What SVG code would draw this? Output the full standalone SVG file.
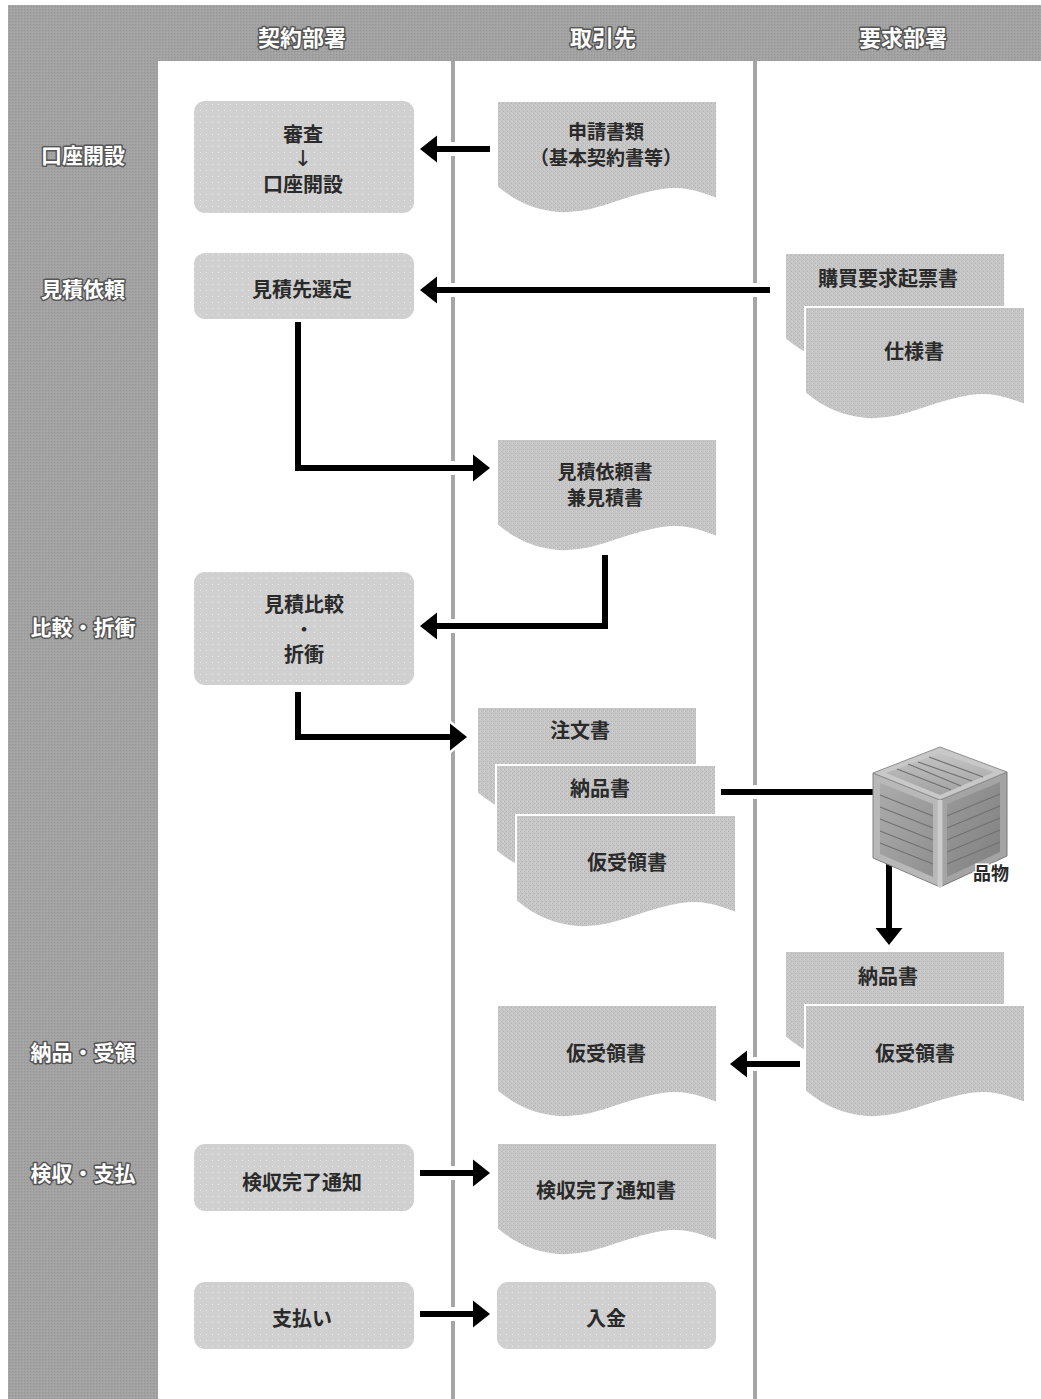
<svg xmlns="http://www.w3.org/2000/svg" width="1041" height="1399" viewBox="0 0 1041 1399">
<style>
text{font-family:"Noto Sans CJK JP","Noto Sans CJK SC",sans-serif;text-anchor:middle;dominant-baseline:central}
.hd{font-size:22px;font-weight:bold;fill:#fff;stroke:#555;stroke-width:3px;paint-order:stroke;stroke-linejoin:round}
.ph{font-size:21px}
.t{font-size:20px;font-weight:bold;fill:#2a2a2a}
.t2{font-size:19px}
.arr{font-size:22px;font-weight:normal;font-family:"DejaVu Sans",sans-serif;fill:#2a2a2a}
.dot{font-size:18px}
.box{fill:url(#boxpat)}
.doc{fill:url(#docpat);stroke:#fff;stroke-width:2}
.lane{stroke:#a6a6a6;stroke-width:4;fill:none}
.halo{stroke:#fff;stroke-width:14;fill:none}
.con{stroke:#000;stroke-width:6;fill:none}
.plank{stroke:#707070;stroke-width:1.2;fill:none}
</style>
<defs>
<pattern id="bgpat" width="3" height="3" patternUnits="userSpaceOnUse">
<rect width="3" height="3" fill="#a2a2a2"/>
<rect width="1" height="1" fill="#959595"/>
<rect x="2" y="2" width="1" height="1" fill="#adadad"/>
</pattern>
<pattern id="boxpat" width="6" height="6" patternUnits="userSpaceOnUse">
<rect width="6" height="6" fill="#d0d0d0"/>
<rect x="2" y="2" width="1" height="1" fill="#ebebeb"/>
</pattern>
<pattern id="docpat" width="4" height="4" patternUnits="userSpaceOnUse">
<rect width="4" height="4" fill="#c6c6c6"/>
<rect width="1" height="1" fill="#b0b0b0"/>
<rect x="2" y="2" width="1" height="1" fill="#b4b4b4"/>
<rect x="3" y="0" width="1" height="1" fill="#d6d6d6"/>
</pattern>
<path id="doc" d="M0,0 H220 V98 C200,90 185,86 165,89 C125,95 100,114 62,112 C35,110 15,99 0,86 Z"/>
<marker id="ah" markerUnits="userSpaceOnUse" markerWidth="20" markerHeight="28" refX="0" refY="13.5" orient="auto" overflow="visible">
<path d="M0,0 L17,13.5 L0,27 Z" fill="#000"/>
</marker>
<marker id="hh" markerUnits="userSpaceOnUse" markerWidth="26" markerHeight="36" refX="0" refY="13.5" orient="auto" overflow="visible">
<path d="M-1,-4 L22,13.5 L-1,31 Z" fill="#fff"/>
</marker>
<linearGradient id="gTop" x1="0" y1="0" x2="0" y2="1"><stop offset="0" stop-color="#c4c4c4"/><stop offset="1" stop-color="#a2a2a2"/></linearGradient>
<linearGradient id="gLeft" x1="0" y1="0" x2="1" y2="1"><stop offset="0" stop-color="#ababab"/><stop offset="1" stop-color="#909090"/></linearGradient>
<linearGradient id="gRight" x1="0" y1="0" x2="1" y2="1"><stop offset="0" stop-color="#9a9a9a"/><stop offset="1" stop-color="#808080"/></linearGradient>
</defs>

<!-- background frame -->
<rect x="0" y="0" width="1041" height="1399" fill="#fff"/>
<rect x="8" y="5" width="1033" height="1394" fill="url(#bgpat)"/>
<rect x="158" y="61" width="883" height="1338" fill="#fff"/>
<line class="lane" x1="453" y1="61" x2="453" y2="1399"/>
<line class="lane" x1="755" y1="61" x2="755" y2="1399"/>

<g id="headers">
<text class="hd" x="302" y="36">契約部署</text>
<text class="hd" x="603" y="36">取引先</text>
<text class="hd" x="903" y="36">要求部署</text>
</g>
<g id="phases">
<text class="hd ph" x="83" y="154">口座開設</text>
<text class="hd ph" x="83" y="288">見積依頼</text>
<text class="hd ph" x="83" y="626">比較・折衝</text>
<text class="hd ph" x="83" y="1051">納品・受領</text>
<text class="hd ph" x="83" y="1172">検収・支払</text>
</g>

<g id="connectors">
<path class="halo" d="M490,149 H437" marker-end="url(#hh)"/>
<path class="halo" d="M770,290 H437" marker-end="url(#hh)"/>
<path class="halo" d="M298,322 V468 H473" marker-end="url(#hh)"/>
<path class="halo" d="M605,555 V626 H437" marker-end="url(#hh)"/>
<path class="halo" d="M298,692 V737 H450" marker-end="url(#hh)"/>
<path class="halo" d="M721,792 H873"/>
<path class="halo" d="M889,855 V928" marker-end="url(#hh)"/>
<path class="halo" d="M800,1064 H747" marker-end="url(#hh)"/>
<path class="halo" d="M420,1173 H473" marker-end="url(#hh)"/>
<path class="halo" d="M420,1314 H473" marker-end="url(#hh)"/>
<path class="con" d="M490,149 H437" marker-end="url(#ah)"/>
<path class="con" d="M770,290 H437" marker-end="url(#ah)"/>
<path class="con" d="M298,322 V468 H473" marker-end="url(#ah)"/>
<path class="con" d="M605,555 V626 H437" marker-end="url(#ah)"/>
<path class="con" d="M298,692 V737 H450" marker-end="url(#ah)"/>
<path class="con" d="M721,792 H873"/>
<path class="con" d="M889,855 V928" marker-end="url(#ah)"/>
<path class="con" d="M800,1064 H747" marker-end="url(#ah)"/>
<path class="con" d="M420,1173 H473" marker-end="url(#ah)"/>
<path class="con" d="M420,1314 H473" marker-end="url(#ah)"/>
</g>

<g id="n-shinsa">
<rect class="box" x="194" y="101" width="220" height="112" rx="11"/>
<text class="t" x="303" y="133">審査<tspan class="arr" x="303" y="158">↓</tspan><tspan x="303" y="183">口座開設</tspan></text>
</g>
<g id="n-shinseisho">
<use href="#doc" class="doc" x="497" y="101"/>
<text class="t t2" x="606" y="130">申請書類<tspan x="606" y="156">（基本契約書等）</tspan></text>
</g>
<g id="n-mitsumorisaki">
<rect class="box" x="194" y="253" width="220" height="66" rx="11"/>
<text class="t" x="302" y="288">見積先選定</text>
</g>
<g id="n-kobai">
<use href="#doc" class="doc" x="785" y="253"/>
<text class="t" x="888" y="277">購買要求起票書</text>
</g>
<g id="n-shiyosho">
<use href="#doc" class="doc" x="805" y="307"/>
<text class="t" x="914" y="350">仕様書</text>
</g>
<g id="n-iraisho">
<use href="#doc" class="doc" x="497" y="439"/>
<text class="t t2" x="605" y="470">見積依頼書<tspan x="605" y="496">兼見積書</tspan></text>
</g>
<g id="n-hikaku">
<rect class="box" x="194" y="572" width="220" height="113" rx="11"/>
<text class="t" x="304" y="603">見積比較<tspan class="dot" x="304" y="628">・</tspan><tspan x="304" y="653">折衝</tspan></text>
</g>
<g id="n-chumonsho">
<use href="#doc" class="doc" x="477" y="707"/>
<text class="t" x="580" y="729">注文書</text>
</g>
<g id="n-nohinsho1">
<use href="#doc" class="doc" x="496" y="765"/>
<text class="t" x="600" y="787">納品書</text>
</g>
<g id="n-karijuryo1">
<use href="#doc" class="doc" x="516" y="815"/>
<text class="t" x="627" y="861">仮受領書</text>
</g>
<g id="n-shinamono">
<polygon points="873,773 940,800 940,887 873,858" fill="#b8b8b8" stroke="#808080" stroke-width="1"/>
<polygon points="880,783 933,804 933,877 880,854" fill="url(#gLeft)"/>
<line class="plank" x1="880" y1="795" x2="933" y2="816"/>
<line class="plank" x1="880" y1="807" x2="933" y2="828"/>
<line class="plank" x1="880" y1="819" x2="933" y2="840"/>
<line class="plank" x1="880" y1="831" x2="933" y2="852"/>
<line class="plank" x1="880" y1="843" x2="933" y2="864"/>
<polygon points="940,800 1007,772 1007,856 940,887" fill="#a4a4a4" stroke="#767676" stroke-width="1"/>
<polygon points="947,804 1000,782 1000,852 947,877" fill="url(#gRight)"/>
<line class="plank" x1="947" y1="816" x2="1000" y2="794"/>
<line class="plank" x1="947" y1="828" x2="1000" y2="806"/>
<line class="plank" x1="947" y1="840" x2="1000" y2="818"/>
<line class="plank" x1="947" y1="852" x2="1000" y2="830"/>
<line class="plank" x1="947" y1="864" x2="1000" y2="842"/>
<polygon points="940,747 1007,772 940,800 873,773" fill="#c8c8c8" stroke="#8e8e8e" stroke-width="1"/>
<polygon points="940,753 994,772 940,795 886,773" fill="url(#gTop)"/>
<line class="plank" x1="929" y1="757" x2="983" y2="777"/>
<line class="plank" x1="918" y1="762" x2="972" y2="781"/>
<line class="plank" x1="908" y1="764" x2="961" y2="786"/>
<line class="plank" x1="897" y1="769" x2="951" y2="790"/>
<line x1="940" y1="800" x2="940" y2="887" stroke="#cdcdcd" stroke-width="5"/>
<text x="991" y="872" style="font-size:18px;font-weight:bold;fill:#2a2a2a;stroke:#fff;stroke-width:3px;paint-order:stroke">品物</text>
</g>
<g id="n-nohinsho2">
<use href="#doc" class="doc" x="785" y="951"/>
<text class="t" x="888" y="975">納品書</text>
</g>
<g id="n-karijuryo2">
<use href="#doc" class="doc" x="805" y="1005"/>
<text class="t" x="915" y="1052">仮受領書</text>
</g>
<g id="n-karijuryo3">
<use href="#doc" class="doc" x="497" y="1005"/>
<text class="t" x="606" y="1052">仮受領書</text>
</g>
<g id="n-kenshu">
<rect class="box" x="194" y="1144" width="220" height="67" rx="11"/>
<text class="t" x="302" y="1181">検収完了通知</text>
</g>
<g id="n-kenshusho">
<use href="#doc" class="doc" x="497" y="1143"/>
<text class="t" x="606" y="1189">検収完了通知書</text>
</g>
<g id="n-shiharai">
<rect class="box" x="194" y="1282" width="220" height="67" rx="11"/>
<text class="t" x="302" y="1317">支払い</text>
</g>
<g id="n-nyukin">
<rect class="box" x="497" y="1282" width="219" height="67" rx="11"/>
<text class="t" x="606" y="1317">入金</text>
</g>
</svg>
